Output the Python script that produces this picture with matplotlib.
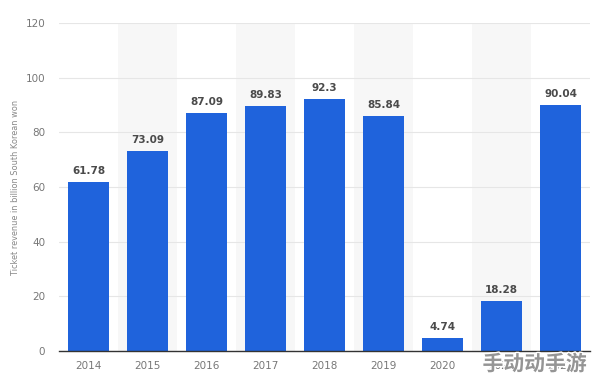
import matplotlib.pyplot as plt
import matplotlib.patheffects as pe

years = ["2014", "2015", "2016", "2017", "2018", "2019", "2020", "2021", "2022"]
revenue = [61.78, 73.09, 87.09, 89.83, 92.3, 85.84, 4.74, 18.28, 90.04]
value_labels = ["61.78", "73.09", "87.09", "89.83", "92.3", "85.84", "4.74", "18.28", "90.04"]
yticks = [0, 20, 40, 60, 80, 100, 120]

plt.rcParams['font.family'] = ['DejaVu Sans', 'Noto Sans CJK SC']

fig = plt.figure(figsize=(5.94, 3.79), dpi=100)
ax = fig.add_axes([0.0993, 0.074, 0.894, 0.865])

x = list(range(len(years)))

# alternating background bands
for i in x:
    if i % 2 == 1:
        ax.axvspan(i - 0.5, i + 0.5, color='#f7f7f7', zorder=0, lw=0)

ax.bar(x, revenue, width=0.68, color='#1f63dc', zorder=3)

for xi, v, lab in zip(x, revenue, value_labels):
    ax.text(xi, v + 2.2, lab, ha='center', va='bottom', fontsize=7.5,
            fontweight='semibold', color='#4a4a4a', zorder=4)

ax.set_xlim(-0.5, len(years) - 0.5)
ax.set_ylim(0, 120)
ax.set_yticks(yticks)
ax.set_xticks(x)
ax.set_xticklabels(years)
ax.grid(axis='y', color='#e6e6e6', lw=0.8, zorder=1)
ax.set_axisbelow(True)
ax.tick_params(axis='both', length=0, labelsize=7.5, colors='#777777')
ax.tick_params(axis='y', pad=10)
ax.tick_params(axis='x', pad=7)
for s in ['top', 'right', 'left']:
    ax.spines[s].set_visible(False)
ax.spines['bottom'].set_color('#333333')
ax.spines['bottom'].set_linewidth(1.0)
ax.spines['bottom'].set_zorder(5)

ax.set_ylabel('Ticket revenue in billion South Korean won', fontsize=5.9, color='#888888')
ax.yaxis.set_label_coords(-0.073, 0.5)

# watermark
fig.text(0.988, 0.012, '手动动手游', ha='right', va='bottom', fontsize=15,
         fontweight='bold', color='#959595', family=['Noto Sans CJK SC', 'DejaVu Sans'],
         path_effects=[pe.withStroke(linewidth=2, foreground='white')], zorder=10)

fig.savefig('out.png', dpi=100)
